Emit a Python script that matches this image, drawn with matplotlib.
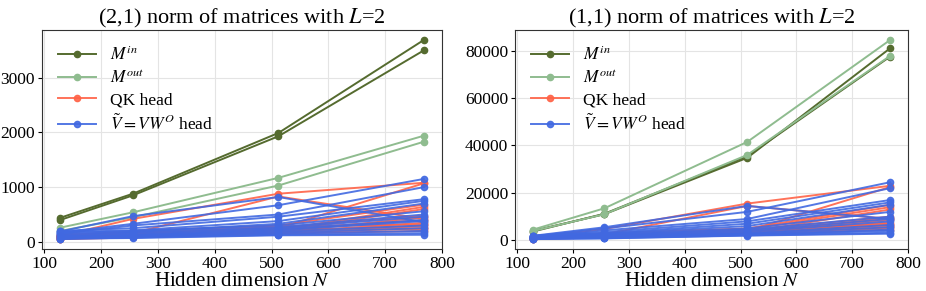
import matplotlib
matplotlib.use("Agg")
import matplotlib.pyplot as plt
from matplotlib.ticker import MultipleLocator

plt.rcParams['font.family'] = ['Liberation Serif', 'DejaVu Serif']
plt.rcParams['mathtext.fontset'] = 'stix'

# hidden dimension
N = [128, 256, 512, 768]

# (2,1) norms
min21 = [[440, 880, 1990, 3690],
         [400, 850, 1930, 3500]]
mout21 = [[260, 540, 1170, 1940],
          [200, 450, 1030, 1830]]
qk21 = [
    [110, 420, 880, 1080],
    [90, 160, 830, 420],
    [70, 130, 250, 1070],
    [100, 200, 300, 680],
    [80, 110, 220, 640],
    [60, 90, 200, 600],
    [120, 150, 260, 480],
    [50, 80, 180, 450],
    [90, 120, 230, 400],
    [70, 100, 170, 350],
    [110, 170, 280, 320],
    [60, 95, 190, 300],
    [80, 140, 210, 280],
    [100, 110, 160, 250],
    [70, 130, 240, 230],
    [130, 180, 150, 200],
]
v21 = [
    [190, 470, 820, 360],
    [170, 330, 670, 1150],
    [150, 300, 500, 1000],
    [200, 250, 460, 780],
    [180, 210, 380, 750],
    [140, 180, 330, 700],
    [160, 200, 300, 560],
    [120, 170, 270, 500],
    [100, 150, 250, 460],
    [90, 130, 230, 400],
    [80, 120, 210, 380],
    [70, 110, 190, 300],
    [60, 100, 170, 250],
    [110, 90, 150, 200],
    [50, 80, 130, 160],
    [60, 70, 120, 130],
]

# (1,1) norms
min11 = [[4000, 11000, 34800, 81000],
         [3700, 11200, 35500, 77500]]
mout11 = [[4500, 13500, 41500, 84500],
          [3900, 11000, 36000, 77800]]
qk11 = [
    [1200, 4800, 15500, 23000],
    [1000, 2500, 14500, 9000],
    [800, 1800, 4000, 22500],
    [1100, 3000, 5000, 15000],
    [900, 2000, 4500, 14000],
    [700, 1500, 3500, 13000],
    [1300, 2200, 4200, 10000],
    [600, 1200, 3000, 9500],
    [900, 1700, 3800, 8500],
    [800, 1400, 2800, 7500],
    [1100, 2400, 4300, 7000],
    [700, 1300, 3200, 6500],
    [900, 2100, 3600, 6000],
    [1000, 1600, 2600, 5500],
    [800, 1900, 3900, 5000],
    [1400, 2600, 2400, 4500],
]
v11 = [
    [1900, 5500, 14500, 9000],
    [1700, 5000, 12000, 24500],
    [1500, 4200, 9000, 22000],
    [2000, 3500, 8000, 17000],
    [1800, 3000, 7000, 16000],
    [1400, 2800, 6000, 15000],
    [1600, 2600, 5000, 12000],
    [1200, 2300, 4500, 10000],
    [1000, 2000, 4000, 9000],
    [900, 1800, 3500, 8000],
    [800, 1600, 3000, 6500],
    [700, 1400, 2800, 5500],
    [600, 1200, 2500, 4500],
    [1100, 1000, 2300, 4000],
    [500, 900, 2100, 3200],
    [600, 800, 2000, 2800],
]

colors = {'in': '#556b2f', 'out': '#8fbc8f', 'qk': 'tomato', 'v': 'royalblue'}

fig = plt.figure(figsize=(9.26, 2.91), dpi=100)
ax1 = fig.add_axes([0.0454, 0.144, 0.432, 0.753])
ax2 = fig.add_axes([0.5562, 0.144, 0.4244, 0.753])


def draw(ax, m_in, m_out, qk, v, title):
    for i, y in enumerate(m_in):
        ax.plot(N, y, '-o', color=colors['in'], lw=1.4, ms=4.5,
                label=r'$M^{in}$' if i == 0 else None)
    for i, y in enumerate(m_out):
        ax.plot(N, y, '-o', color=colors['out'], lw=1.4, ms=4.5,
                label=r'$M^{out}$' if i == 0 else None)
    for i, y in enumerate(qk):
        ax.plot(N, y, '-o', color=colors['qk'], lw=1.4, ms=4.5, alpha=0.9,
                label='QK head' if i == 0 else None)
    for i, y in enumerate(v):
        ax.plot(N, y, '-o', color=colors['v'], lw=1.4, ms=4.5, alpha=0.9,
                label=r'$\tilde{V}=VW^O$ head' if i == 0 else None)
    ax.set_title(title, fontsize=16, pad=4)
    ax.set_xlabel(r'Hidden dimension $N$', fontsize=15, labelpad=0)
    ax.set_xlim(96, 800)
    ax.xaxis.set_major_locator(MultipleLocator(100))
    ax.tick_params(labelsize=12.5, length=3, pad=2)
    ax.grid(True, color='#e4e4e4', lw=0.8)
    ax.set_axisbelow(True)
    for s in ax.spines.values():
        s.set_color('#333333')
    ax.legend(loc='upper left', frameon=False, fontsize=12.5, handlelength=2.2,
              labelspacing=0.3, borderaxespad=0.5)


draw(ax1, min21, mout21, qk21, v21, r'(2,1) norm of matrices with $L$=2')
draw(ax2, min11, mout11, qk11, v11, r'(1,1) norm of matrices with $L$=2')

fig.savefig('out.png', dpi=100)
